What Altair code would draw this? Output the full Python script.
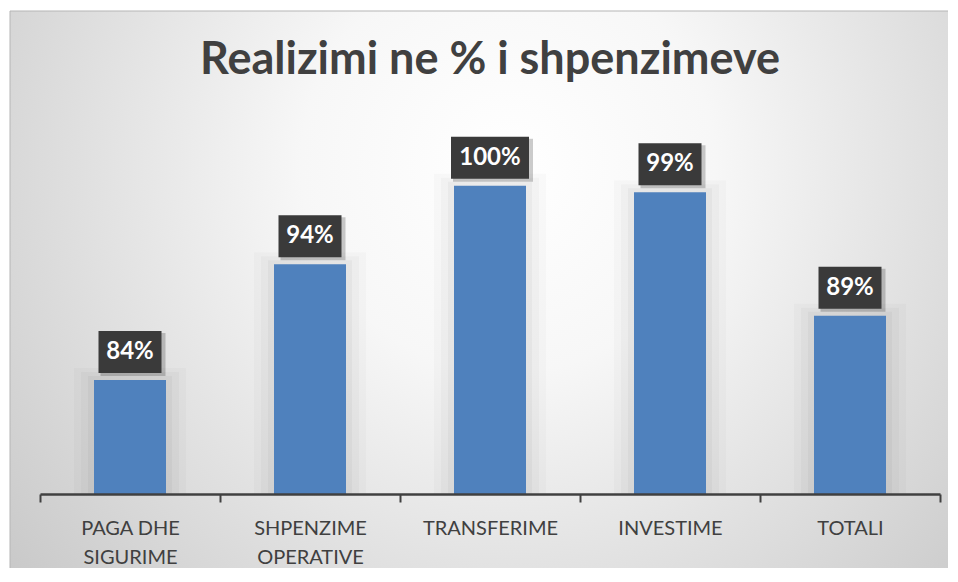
import altair as alt
import pandas as pd

categories = ["PAGA DHE SIGURIME", "SHPENZIME OPERATIVE", "TRANSFERIME", "INVESTIME", "TOTALI"]
values = [0.8425, 0.9363, 1.0, 0.9947, 0.8946]
title_text = "Realizimi ne % i shpenzimeve"

df = pd.DataFrame({"cat": categories, "value": values})
bg_df = pd.DataFrame({"k": [0]})

W, H = 900, 370
PAD = {"left": 32, "top": 116, "right": 8, "bottom": 74}

xscale = alt.Scale(paddingInner=0, paddingOuter=0)
x = alt.X("cat:N", sort=categories, scale=xscale,
          axis=alt.Axis(title=None, labelAngle=0, domainColor="#404040", domainWidth=2.5,
                        ticks=True, tickBand="extent", tickColor="#404040", tickWidth=2, tickSize=8,
                        labelFont="Lato", labelFontSize=20, labelColor="#404040",
                        labelPadding=16, labelLineHeight=29, zindex=2,
                        labelExpr="datum.label == 'PAGA DHE SIGURIME' ? ['PAGA DHE', 'SIGURIME'] : "
                                  "datum.label == 'SHPENZIME OPERATIVE' ? ['SHPENZIME', 'OPERATIVE'] : datum.label"))
yscale = alt.Scale(domain=[0.75, 1.05])
y = alt.Y("value:Q", scale=yscale, axis=None)
base = alt.Chart(df).encode(x=x)

background = alt.Chart(bg_df).mark_rect(
    fill={"gradient": "radial", "x1": 0.52, "y1": 0.36, "r1": 0.0,
          "x2": 0.52, "y2": 0.36, "r2": 0.72,
          "stops": [{"offset": 0, "color": "#ffffff"},
                    {"offset": 0.3, "color": "#f7f7f7"},
                    {"offset": 1, "color": "#c4c4c4"}]},
    stroke="#b5b5b5", strokeWidth=1
).encode(x=alt.value(-30), x2=alt.value(W + PAD["right"] + 20),
         y=alt.value(-113), y2=alt.value(H + PAD["bottom"] + 20))

shadows = []
for w, op, off in [(112, 0.018, -12), (98, 0.022, -8), (84, 0.03, -4)]:
    shadows.append(base.mark_bar(width=w, color="#000000", opacity=op, yOffset=off).encode(
        y=y, y2=alt.Y2(datum=0.75)))

bars = base.mark_bar(width=72, color="#4f81bd").encode(y=y, y2=alt.Y2(datum=0.75))

box_w = alt.Size("bw:Q", scale=None, legend=None)
box_shadow = base.transform_calculate(
    bw="length(format(datum.value, '.0%')) * 15 + 20"
).mark_bar(color="#000000", opacity=0.2, xOffset=3, yOffset=-47, y2Offset=-4).encode(
    y=y, y2=alt.Y2("value:Q"), size=box_w)
box = base.transform_calculate(
    bw="length(format(datum.value, '.0%')) * 15 + 18"
).mark_bar(color="#3a3a3a", yOffset=-49, y2Offset=-7).encode(
    y=y, y2=alt.Y2("value:Q"), size=box_w)
labels = base.mark_text(font="Lato", fontSize=24, fontWeight="bold", color="white",
                        dy=-28, baseline="middle").encode(
    y=y, text=alt.Text("value:Q", format=".0%"))

chart = alt.layer(background, *shadows, bars, box_shadow, box, labels).properties(
    width=W, height=H, padding=PAD, autosize="none",
    title=alt.Title(title_text, font="Lato", fontSize=45, fontWeight="bold", color="#404040",
                    anchor="middle", baseline="alphabetic", offset=-108)
).configure_view(stroke=None)

chart.save("out.html", embed_options={"renderer": "svg", "actions": False})
